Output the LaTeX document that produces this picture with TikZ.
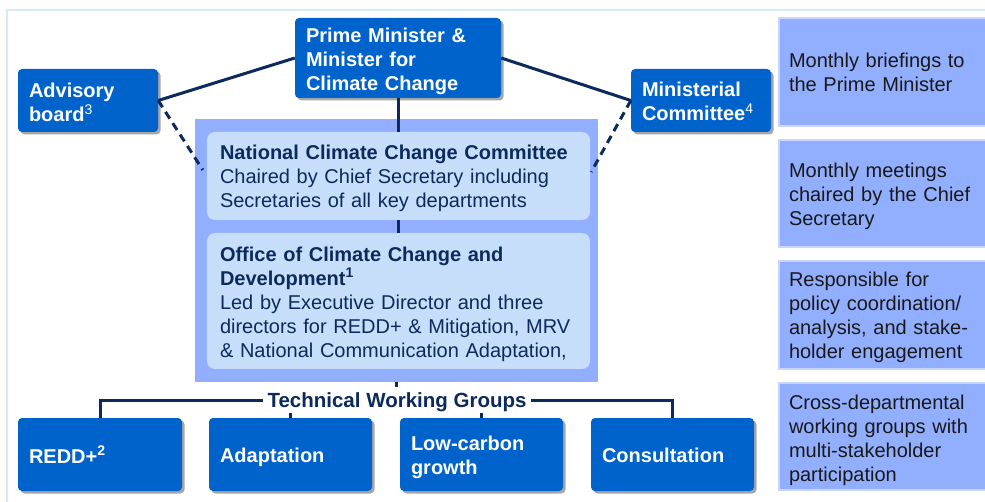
\documentclass[tikz,border=0pt]{standalone}
\usepackage{fontspec}
\setmainfont{Liberation Sans}
\usetikzlibrary{shadows,calc}
\definecolor{pmblue}{RGB}{0,99,204}
\definecolor{contblue}{RGB}{146,174,255}
\definecolor{innerblue}{RGB}{198,222,250}
\definecolor{navy}{RGB}{12,42,92}
\definecolor{framecol}{RGB}{214,232,250}
\definecolor{edgeblue}{RGB}{200,214,255}
\definecolor{notetext}{RGB}{25,25,25}
\tikzset{
  base/.style={font=\fontsize{20}{24}\selectfont, align=left, inner xsep=11pt, inner ysep=2pt},
  tshift/.style={execute at begin node={\rule{0pt}{#1}}},
  bluebox/.style={base, fill=pmblue, text=white, rounded corners=4pt,
    font=\fontsize{20}{24}\selectfont\bfseries,
    drop shadow={shadow xshift=2.5pt, shadow yshift=-2.5pt, fill=black!35, opacity=1}},
  innerbox/.style={base, fill=innerblue, text=navy, rounded corners=8pt, inner xsep=13pt},
  notebox/.style={base, fill=contblue, draw=edgeblue, line width=1.5pt, text=notetext, inner xsep=10pt},
  link/.style={draw=navy, line width=3pt},
  dlink/.style={draw=navy, line width=3pt, dash pattern=on 8pt off 5.5pt},
}
\begin{document}
\begin{tikzpicture}[x=1pt,y=-1pt]
\useasboundingbox (0,0) rectangle (985,502);
\clip (0,0) rectangle (985,502);
\fill[white] (0,0) rectangle (985,502);
\draw[framecol, line width=1.5pt] (7,505) -- (7,10) -- (990,10);

% container
\node[fill=contblue, minimum width=403, minimum height=263, inner sep=0] (cont) at (396.5,250.5) {};
\node[innerbox, tshift=19.5pt, minimum width=383, minimum height=88, text width=357pt] (nccc) at (398.5,176)
  {\textbf{National Climate Change Committee}\\Chaired by Chief Secretary including\\Secretaries of all key departments};
\node[innerbox, tshift=20.5pt, minimum width=383, minimum height=136, text width=357pt] (office) at (398.5,301)
  {\textbf{Office of Climate Change and}\\\textbf{Development\textsuperscript{1}}\\Led by Executive Director and three\\directors for REDD+ \& Mitigation, MRV\\\& National Communication Adaptation,};

% top boxes
\node[bluebox, tshift=20.5pt, minimum width=206, minimum height=80, text width=184pt] (pm) at (398,58)
  {Prime Minister \&\\Minister for\\Climate Change};
\node[bluebox, tshift=18.5pt, minimum width=140, minimum height=63, text width=118pt] (adv) at (88,100.5)
  {Advisory\\board\textsuperscript{\normalfont 3}};
\node[bluebox, tshift=16.5pt, minimum width=140, minimum height=63, text width=118pt] (min) at (701,100.5)
  {Ministerial\\Committee\textsuperscript{\normalfont 4}};

% bottom boxes
\node[bluebox, minimum width=164, minimum height=73, text width=142pt] (redd) at (100,454.5) {REDD+\textsuperscript{2}};
\node[bluebox, tshift=20.5pt, minimum width=163, minimum height=73, text width=141pt] (adapt) at (290.5,454.5) {Adaptation};
\node[bluebox, tshift=20.5pt, minimum width=163, minimum height=73, text width=141pt] (low) at (481.5,454.5) {Low-carbon\\growth};
\node[bluebox, tshift=16.5pt, minimum width=163, minimum height=73, text width=141pt] (cons) at (672.5,454.5) {Consultation};

% technical working groups label
\node[font=\fontsize{20.5}{24}\selectfont\bfseries, text=navy, inner xsep=4.5pt, inner ysep=1pt, text depth=0pt] (twg) at (397,400.5) {Technical Working Groups};

% right notes
\node[notebox, minimum width=213, minimum height=108, text width=193pt] (n1) at (885.5,72)
  {Monthly briefings to\\the Prime Minister};
\node[notebox, tshift=20.5pt, minimum width=213, minimum height=107, text width=193pt] (n2) at (885.5,193.5)
  {Monthly meetings\\chaired by the Chief\\Secretary};
\node[notebox, tshift=18.5pt, minimum width=213, minimum height=108, text width=193pt] (n3) at (885.5,315)
  {Responsible for\\policy coordination/\\analysis, and stake-\\holder engagement};
\node[notebox, tshift=21.5pt, minimum width=213, minimum height=107, text width=193pt] (n4) at (885.5,436.5)
  {Cross-departmental\\working groups with\\multi-stakeholder\\participation};

% connectors
\draw[link] (pm.south) -- (pm.south |- nccc.north);
\draw[link] (nccc.south -| pm.south) -- (office.north -| pm.south);
\draw[link] (adv.east) -- (pm.west);
\draw[link] (pm.east) -- (min.west);
\draw[dlink] (adv.east) -- ($(nccc.west)+(-4,-6)$);
\draw[dlink] (min.west) -- ($(nccc.east)+(1,-4)$);
\draw[link] (cont.south) -- ++(0,5);
\draw[link] (twg.west) -- (redd.north |- twg.west) -- (redd.north);
\draw[link] (twg.east) -- (cons.north |- twg.east) -- (cons.north);
\draw[link] (adapt.north) -- ++(0,-5);
\draw[link] (low.north) -- ++(0,-5);
\end{tikzpicture}
\end{document}
